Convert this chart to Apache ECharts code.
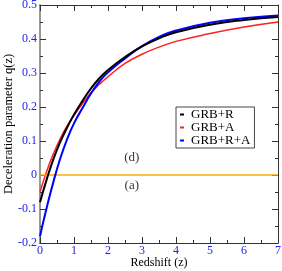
<!DOCTYPE html>
<html><head><meta charset="utf-8">
<script src="https://cdn.jsdelivr.net/npm/echarts@6/dist/echarts.min.js"></script>
<style>html,body{margin:0;padding:0;background:#fff}#c{width:282px;height:271px}</style>
</head><body><div id="c"></div>
<script>
var zGrid   = [0, 0.2, 0.4, 0.6, 0.8, 1.0, 1.25, 1.5, 1.75, 2, 2.5, 3, 3.5, 4, 5, 6, 7];
var qGRB_R  = [-0.08, -0.012, 0.048, 0.098, 0.14, 0.178, 0.218, 0.255, 0.285, 0.309, 0.347, 0.378, 0.402, 0.42, 0.442, 0.456, 0.465];
var qGRB_A  = [-0.05, 0.012, 0.064, 0.108, 0.145, 0.175, 0.21, 0.242, 0.267, 0.289, 0.328, 0.355, 0.376, 0.393, 0.416, 0.435, 0.45];
var qGRB_RA = [-0.18, -0.095, -0.018, 0.05, 0.106, 0.152, 0.197, 0.24, 0.275, 0.302, 0.343, 0.379, 0.406, 0.425, 0.448, 0.461, 0.469];
var zeroLineZ = [0, 7];
var zeroLineQ = [0, 0];
var seriesNames = ['GRB+R', 'GRB+A', 'GRB+R+A'];
var annText = ['(d)', '(a)'];
var annZ = [2.7, 2.7];
var annQ = [0.05, -0.032];

function pairs(xs, ys){ return xs.map(function(x,i){ return [x, ys[i]]; }); }
var serif = 'Liberation Serif';
var chart = echarts.init(document.getElementById('c'));
var axisCommon = {
  type: 'value',
  axisLine: {show: true, onZero: false, lineStyle: {color: '#333', width: 1}},
  axisTick: {show: true, inside: true, length: 6, lineStyle: {color: '#333'}},
  minorTick: {show: true, splitNumber: 2, length: 3, lineStyle: {color: '#333'}},
  splitLine: {show: false},
  axisLabel: {color: '#2222ee', fontFamily: serif, fontSize: 12}
};
function ax(extra){ return Object.assign({}, JSON.parse(JSON.stringify(axisCommon)), extra); }
var colors = ['#000000', '#ff2020', '#0000ff'];
var datas = [qGRB_R, qGRB_A, qGRB_RA];
var series = datas.map(function(d,i){
  return {name: seriesNames[i], type: 'line', data: pairs(zGrid, d), smooth: 0.5, symbol: 'none',
    lineStyle: {color: colors[i], width: i===1 ? 1.5 : 2}, itemStyle: {color: colors[i]}, z: i===2?3:(i===0?4:2)};
});
series.unshift({name: 'zero', type: 'line', data: pairs(zeroLineZ, zeroLineQ), symbol: 'none',
  lineStyle: {color: '#ffaa00', width: 1.5}, silent: true});
series.push({name: 'ann', type: 'scatter', symbolSize: 1, itemStyle: {color: 'rgba(0,0,0,0)'},
  data: annText.map(function(t,i){ return {value: [annZ[i], annQ[i]], label: {show: true, formatter: t, position: 'inside', fontFamily: serif, fontSize: 13, color: '#000'}}; })});
chart.setOption({
  animation: false,
  backgroundColor: '#fff',
  grid: {left: 40, right: 4, top: 5, bottom: 28, containLabel: false, outerBoundsMode: 'none'},
  legend: {data: seriesNames, orient: 'vertical', left: 176, top: 107, itemWidth: 4, itemHeight: 2,
    itemGap: 0, icon: 'rect', borderColor: '#444', borderWidth: 1, padding: [1, 4, 1, 4],
    textStyle: {fontFamily: serif, fontSize: 13, color: '#000', padding: [0,0,0,2]}, selectedMode: false},
  xAxis: [
    ax({min: 0, max: 7, interval: 1, position: 'bottom', name: 'Redshift (z)', nameLocation: 'middle', nameGap: 14, nameMoveOverlap: false,
      nameTextStyle: {fontFamily: serif, fontSize: 12, color: '#000'}, axisLabel: {color: '#2222ee', fontFamily: serif, fontSize: 12, margin: 2}}),
    ax({min: 0, max: 7, interval: 1, position: 'top', axisLabel: {show: false}})
  ],
  yAxis: [
    ax({min: -0.2, max: 0.5, interval: 0.1, position: 'left', name: 'Deceleration parameter q(z)', nameLocation: 'middle', nameGap: 25, nameMoveOverlap: false,
      nameTextStyle: {fontFamily: serif, fontSize: 12.5, color: '#000'},
      axisLine: {show: true, onZero: false, lineStyle: {color: '#999', width: 2}},
      axisLabel: {color: '#2222ee', fontFamily: serif, fontSize: 12, margin: 3, formatter: function(v){ return String(Math.round(v*10)/10); }}}),
    ax({min: -0.2, max: 0.5, interval: 0.1, position: 'right', axisLabel: {show: false}})
  ],
  series: series
});
</script></body></html>
